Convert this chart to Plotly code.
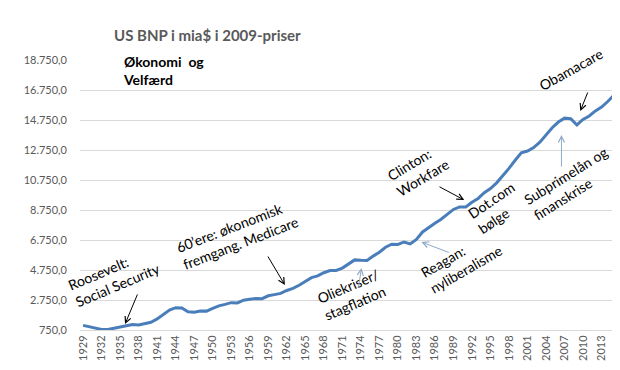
import plotly.graph_objects as go

# Data: US real GDP, billions of 2009 dollars
years = list(range(1929, 2016))
gdp = [1056.6, 966.7, 904.8, 788.2, 778.3, 862.2, 939.0, 1060.5, 1114.6, 1077.7,
       1163.6, 1266.1, 1490.3, 1771.8, 2073.7, 2239.4, 2217.8, 1960.9, 1939.4, 2020.0,
       2008.9, 2184.0, 2360.0, 2456.1, 2571.4, 2556.9, 2739.0, 2797.4, 2856.3, 2835.3,
       3031.0, 3108.7, 3188.1, 3383.1, 3530.4, 3734.0, 3976.7, 4238.0, 4355.2, 4569.0,
       4712.5, 4722.0, 4877.6, 5134.3, 5424.1, 5396.0, 5385.4, 5675.4, 5937.0, 6267.2,
       6466.2, 6450.4, 6617.7, 6491.3, 6792.0, 7285.0, 7593.8, 7860.5, 8132.6, 8474.5,
       8786.4, 8955.0, 8948.4, 9266.6, 9521.0, 9905.4, 10174.8, 10561.0, 11034.9, 11525.9,
       12065.9, 12559.7, 12682.2, 12908.8, 13271.1, 13773.5, 14234.2, 14613.8, 14873.7, 14830.4,
       14418.7, 14783.8, 15020.6, 15354.6, 15612.2, 15982.3, 16397.2]

x_tick_years = list(range(1929, 2016, 3))
y_tick_vals = [750, 2750, 4750, 6750, 8750, 10750, 12750, 14750, 16750, 18750]
y_tick_text = ["750,0", "2.750,0", "4.750,0", "6.750,0", "8.750,0", "10.750,0",
               "12.750,0", "14.750,0", "16.750,0", "18.750,0"]

title_text = "US BNP i mia$ i 2009-priser"
subtitle_text = "Økonomi  og<br>Velfærd"

FONT = "Lato"
GREY = "#595959"
ARROW_BLUE = "#8EA9C8"

fig = go.Figure()
fig.add_trace(go.Scatter(x=years, y=gdp, mode="lines",
                         line=dict(color="#4A7EBB", width=3), showlegend=False,
                         hoverinfo="x+y"))

# text labels: (text, x, y, angle)
labels = [
    ("Roosevelt:<br>Social Security", 1934.0, 4300, -23),
    ("60’ere: økonomisk<br>fremgang. Medicare", 1953.9, 7150, -21),
    ("Oliekriser/<br>stagflation", 1972.5, 3100, -23),
    ("Reagan:<br>nyliberalisme", 1990.2, 5350, -30),
    ("Clinton:<br>Workfare", 1983.3, 11450, -31),
    ("Dot.com<br>bølge", 1996.0, 8900, -34),
    ("Subprimelån og<br>finanskrise", 2007.9, 10500, -32),
    ("Obamacare", 2008.0, 18100, -29),
]
for t, x, y, a in labels:
    fig.add_annotation(x=x, y=y, xref="x", yref="y", text=t, showarrow=False,
                       textangle=a, align="left", xanchor="center", yanchor="middle",
                       font=dict(family=FONT, size=14, color="black"))

# arrows: (head x, head y, tail x, tail y, color)
arrows = [
    (1935.8, 1150, 1937.9, 3217, "black"),
    (1961.7, 3750, 1958.8, 5750, "black"),
    (1974.1, 4883, 1973.6, 3550, ARROW_BLUE),
    (1983.8, 6617, 1988.5, 5883, ARROW_BLUE),
    (1990.75, 9417, 1986.5, 10350, "black"),
    (2006.5, 13750, 2006.5, 11550, ARROW_BLUE),
    (2009.55, 15350, 2010.85, 16683, "black"),
]
for hx, hy, tx, ty, c in arrows:
    fig.add_annotation(x=hx, y=hy, ax=tx, ay=ty, xref="x", yref="y", axref="x", ayref="y",
                       text="", showarrow=True, arrowhead=5, arrowsize=1.2, arrowwidth=1,
                       arrowcolor=c, standoff=0)

fig.add_annotation(x=0.06, y=1.093, xref="paper", yref="paper", text="<b>" + title_text + "</b>",
                   showarrow=False, xanchor="left", yanchor="middle",
                   font=dict(family=FONT, size=15, color=GREY))
fig.add_annotation(x=0.0764, y=0.961, xref="paper", yref="paper", text="<b>" + subtitle_text + "</b>",
                   showarrow=False, xanchor="left", yanchor="middle", align="left",
                   font=dict(family=FONT, size=14, color="black"))

fig.add_shape(type="line", xref="paper", yref="paper", x0=-0.134, x1=1.02, y0=-0.152, y1=-0.152,
              line=dict(color="#D9D9D9", width=1))

fig.update_layout(
    width=620, height=370,
    margin=dict(l=72, r=11, t=52, b=48),
    paper_bgcolor="white", plot_bgcolor="white",
    font=dict(family=FONT, size=11, color=GREY),
    xaxis=dict(range=[1928.5, 2015.5], tickvals=x_tick_years,
               ticktext=[str(v) for v in x_tick_years], tickangle=-90,
               showgrid=False, showline=True, linecolor="#D9D9D9", linewidth=1,
               ticks="", zeroline=False, tickfont=dict(family=FONT, size=11, color=GREY)),
    yaxis=dict(range=[750, 18750], tickvals=y_tick_vals, ticktext=y_tick_text,
               showgrid=True, gridcolor="#D9D9D9", gridwidth=1, zeroline=False,
               showline=False, ticks="", ticklabelstandoff=12,
               tickfont=dict(family=FONT, size=11, color=GREY)),
)

fig.write_html("out.html")
